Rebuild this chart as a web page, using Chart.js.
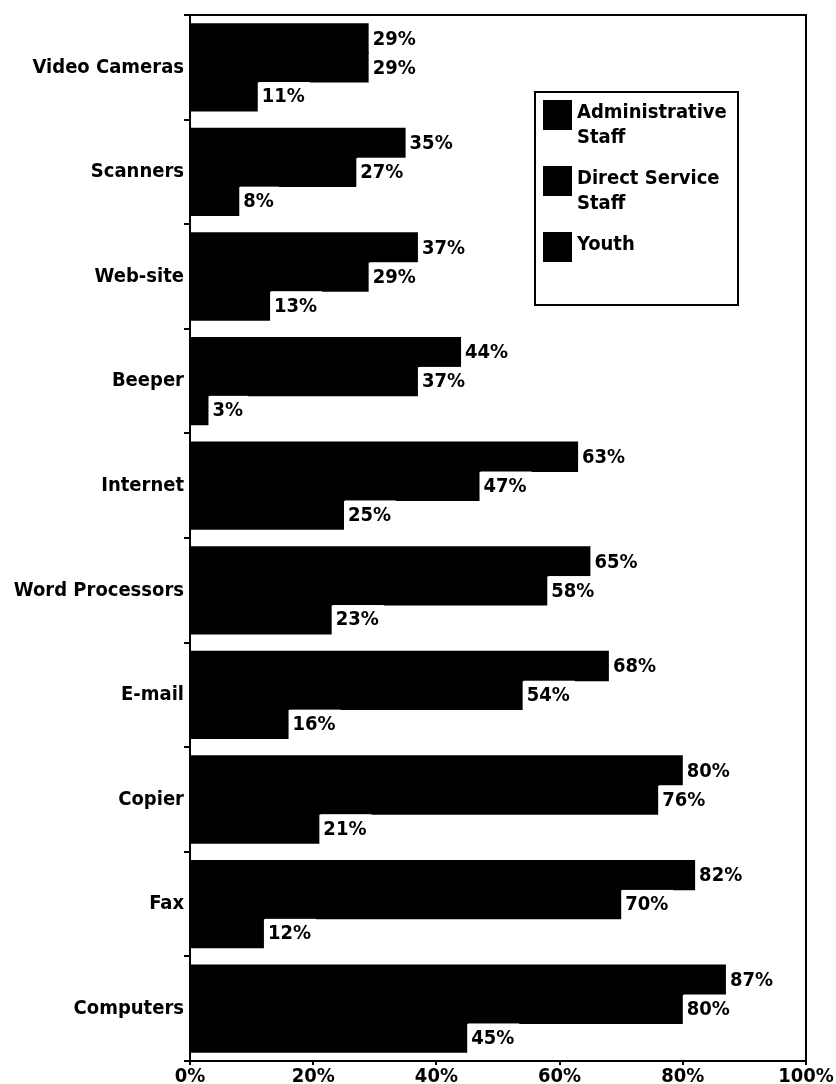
<!DOCTYPE html>
<html>
<head>
<meta charset="utf-8">
<script src="https://cdn.jsdelivr.net/npm/chart.js@4.4.0/dist/chart.umd.min.js"></script>
<style>
    html, body { margin: 0; padding: 0; background: #fff; }
    canvas { display: block; }
</style>
</head>
<body>
<canvas id="usage-chart" width="836" height="1084"></canvas>
<script>
const categories = ['Video Cameras', 'Scanners', 'Web-site', 'Beeper', 'Internet',
    'Word Processors', 'E-mail', 'Copier', 'Fax', 'Computers'];
const adminStaff = [29, 35, 37, 44, 63, 65, 68, 80, 82, 87];
const directStaff = [29, 27, 29, 37, 47, 58, 54, 76, 70, 80];
const youth = [11, 8, 13, 3, 25, 23, 16, 21, 12, 45];
const xTicks = [0, 20, 40, 60, 80, 100];
const seriesNames = [['Administrative', 'Staff'], ['Direct Service', 'Staff'], ['Youth']];

const FONT = '"DejaVu Sans Condensed", "Liberation Sans Narrow", sans-serif';
const boldFont = size => ({ family: FONT, size: size, weight: 'bold' });

// Cuadro alrededor del área del gráfico
const framePlugin = {
    id: 'frame',
    afterDraw(chart) {
        const { ctx, chartArea } = chart;
        ctx.save();
        ctx.strokeStyle = '#000';
        ctx.lineWidth = 2;
        ctx.strokeRect(chartArea.left, chartArea.top, chartArea.right - chartArea.left, chartArea.bottom - chartArea.top);
        ctx.restore();
    }
};

// Etiquetas de valor al final de cada barra, con fondo blanco
const valueLabels = {
    id: 'valueLabels',
    afterDatasetsDraw(chart) {
        const ctx = chart.ctx;
        ctx.save();
        ctx.font = 'bold 20px ' + FONT;
        ctx.textBaseline = 'middle';
        chart.data.datasets.forEach((ds, i) => {
            chart.getDatasetMeta(i).data.forEach((bar, j) => {
                const text = ds.data[j] + '%';
                const w = ctx.measureText(text).width;
                ctx.fillStyle = '#fff';
                ctx.fillRect(bar.x + 1, bar.y - bar.height / 2 + 1, w + 8, bar.height - 1);
                ctx.fillStyle = '#000';
                ctx.fillText(text, bar.x + 4, bar.y + 1);
            });
        });
        ctx.restore();
    }
};

// Leyenda dentro del gráfico, arriba a la derecha
const boxLegend = {
    id: 'boxLegend',
    afterDraw(chart) {
        const { ctx, chartArea } = chart;
        const boxW = 203, boxH = 213;
        const left = chartArea.right - 68 - boxW;
        const top = chartArea.top + 77;
        const lineH = 25;
        ctx.save();
        ctx.fillStyle = '#fff';
        ctx.fillRect(left, top, boxW, boxH);
        ctx.strokeStyle = '#000';
        ctx.lineWidth = 2;
        ctx.strokeRect(left, top, boxW, boxH);
        ctx.font = 'bold 20px ' + FONT;
        ctx.textBaseline = 'top';
        let y = top + 8;
        seriesNames.forEach((lines, i) => {
            ctx.fillStyle = chart.data.datasets[i].backgroundColor;
            ctx.fillRect(left + 8, y, 29, 30);
            ctx.fillStyle = '#000';
            lines.forEach((line, k) => ctx.fillText(line, left + 42, y + 3 + k * lineH));
            y += lines.length * lineH + 16;
        });
        ctx.restore();
    }
};

const barStyle = { backgroundColor: '#000', borderWidth: 0 };

const ctx = document.getElementById('usage-chart').getContext('2d');
new Chart(ctx, {
    type: 'bar',
    data: {
        labels: categories,
        datasets: [
            { label: seriesNames[0].join(' '), data: adminStaff, ...barStyle },
            { label: seriesNames[1].join(' '), data: directStaff, ...barStyle },
            { label: seriesNames[2].join(' '), data: youth, ...barStyle }
        ]
    },
    options: {
        indexAxis: 'y',
        responsive: false,
        animation: false,
        devicePixelRatio: 1,
        categoryPercentage: 0.83,
        barPercentage: 1.05,
        layout: { padding: { top: 15, right: 30, left: 10, bottom: 0 } },
        scales: {
            x: {
                min: 0,
                max: 100,
                afterBuildTicks: scale => { scale.ticks = xTicks.map(v => ({ value: v })); },
                afterFit: scale => { scale.height = 23; },
                ticks: {
                    color: '#000',
                    font: boldFont(20),
                    padding: 0,
                    callback: v => v + '%'
                },
                grid: { drawOnChartArea: false, tickLength: 4, color: '#000', lineWidth: 2 },
                border: { color: '#000', width: 2 }
            },
            y: {
                afterFit: scale => { scale.width = 180; },
                ticks: { color: '#000', font: boldFont(20), padding: 0 },
                grid: { offset: true, drawOnChartArea: false, tickLength: 6, color: '#000', lineWidth: 2 },
                border: { color: '#000', width: 2 }
            }
        },
        plugins: {
            legend: { display: false },
            tooltip: { enabled: false }
        }
    },
    plugins: [framePlugin, valueLabels, boxLegend]
});
</script>
</body>
</html>
